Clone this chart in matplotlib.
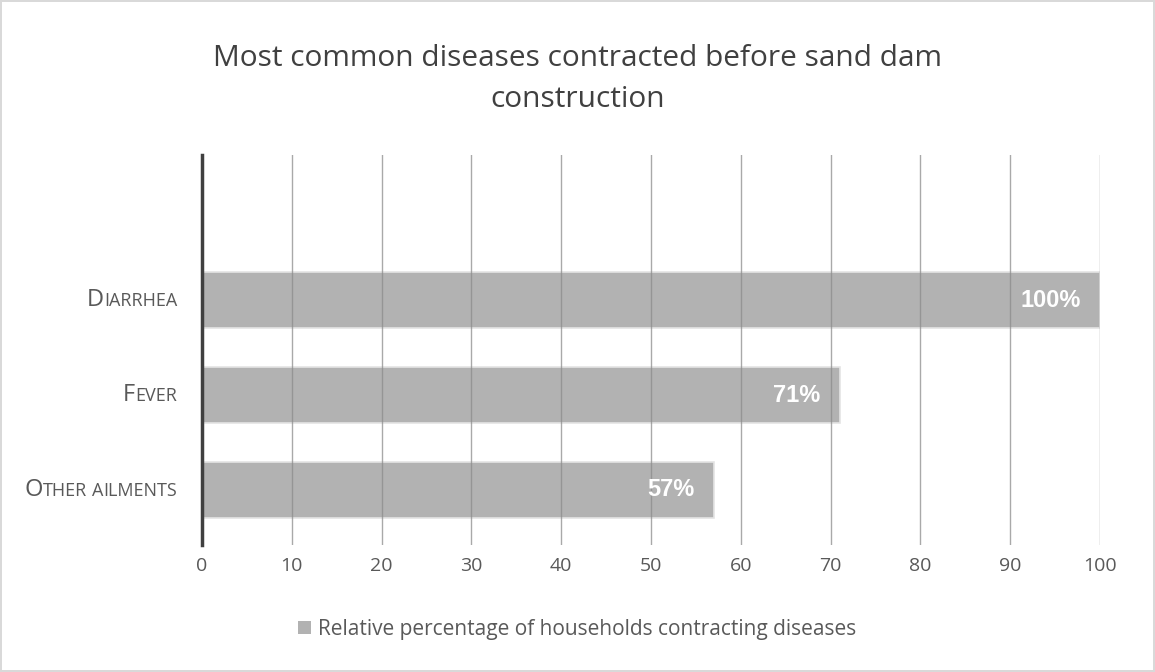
import matplotlib.pyplot as plt
import numpy as np
from matplotlib.offsetbox import TextArea, HPacker, AnnotationBbox
from matplotlib.patches import Patch

categories = ['Other ailments', 'Fever', 'Diarrhea']
values = [57, 71, 100]
xticks = [0, 10, 20, 30, 40, 50, 60, 70, 80, 90, 100]

plt.rcParams['font.family'] = ['Open Sans', 'DejaVu Sans']
txt_color = '#595959'

fig = plt.figure(figsize=(11.55, 6.72), dpi=100)
fig.patch.set_edgecolor('#d9d9d9')
fig.patch.set_linewidth(1.5)
ax = fig.add_axes([0.1749, 0.189, 0.9524 - 0.1749, 0.580])

y = np.arange(len(categories))
ax.barh(y, values, height=0.59, color='#b2b2b2', edgecolor='#e4e4e4', linewidth=1.2, zorder=1)

ax.set_xlim(0, 100)
ax.set_ylim(-0.58, 3.53)
ax.set_xticks(xticks)
ax.set_xticklabels([str(t) for t in xticks], fontsize=14, color=txt_color)
ax.tick_params(axis='x', length=0, pad=9)
ax.tick_params(axis='y', length=0)
ax.set_yticks([])
ax.grid(axis='x', color='#8c8c8c', linewidth=1, alpha=0.75, zorder=2)
ax.set_axisbelow(False)
for s in ['top', 'right', 'bottom']:
    ax.spines[s].set_visible(False)
ax.spines['left'].set_color('#404040')
ax.spines['left'].set_linewidth(2.5)
ax.spines['left'].set_zorder(3)

# small caps category labels
big, small = 17, 13
for yi, name in zip(y, categories):
    parts = []
    for word_i, word in enumerate(name.split(' ')):
        if word_i > 0:
            parts.append(TextArea(' ', textprops=dict(fontsize=small, color=txt_color)))
        first, rest = word[0], word[1:]
        if first.isupper():
            parts.append(TextArea(first, textprops=dict(fontsize=big, color=txt_color)))
        else:
            parts.append(TextArea(first.upper(), textprops=dict(fontsize=small, color=txt_color)))
        parts.append(TextArea(rest.upper(), textprops=dict(fontsize=small, color=txt_color)))
    box = HPacker(children=parts, align='baseline', pad=0, sep=0)
    ab = AnnotationBbox(box, (0, yi), xybox=(-18, 0), xycoords='data',
                        boxcoords='offset points', box_alignment=(1, 0.5),
                        frameon=False, annotation_clip=False)
    ax.add_artist(ab)

for yi, v in zip(y, values):
    ax.annotate(f'{v}%', (v, yi), xytext=(-14, 0), textcoords='offset points',
                ha='right', va='center', color='white', fontsize=17,
                fontweight='bold', family='Liberation Sans', zorder=4)

fig.suptitle('Most common diseases contracted before sand dam\nconstruction',
             x=0.5, y=0.935, fontsize=21.5, color='#404040', linespacing=1.55)

handle = Patch(facecolor='#b2b2b2', edgecolor='none')
fig.legend([handle], ['Relative percentage of households contracting diseases'],
           loc='center', bbox_to_anchor=(0.5, 0.063), frameon=False,
           fontsize=15, labelcolor=txt_color, handlelength=0.6, handleheight=0.6,
           handletextpad=0.35)

fig.savefig('out.png', dpi=100)
